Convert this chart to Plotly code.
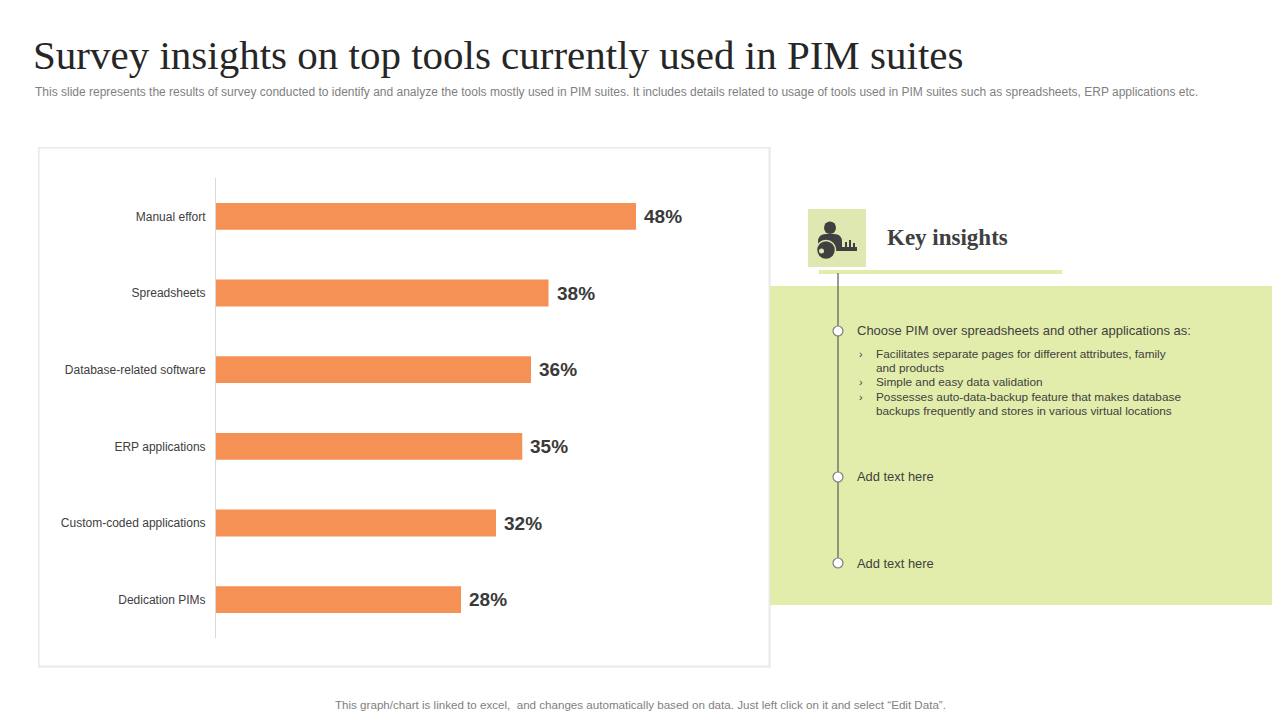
import plotly.graph_objects as go

# ---- data ----
tools = [
    "Manual effort",
    "Spreadsheets",
    "Database-related software",
    "ERP applications",
    "Custom-coded applications",
    "Dedication PIMs",
]
usage_pct = [48, 38, 36, 35, 32, 28]

title = "Survey insights on top tools currently used in PIM suites"
subtitle = ("This slide represents the results of survey conducted to identify and analyze the tools mostly "
            "used in PIM suites. It includes details related to usage of tools used in PIM suites such as "
            "spreadsheets, ERP applications etc.")
footer = ("This graph/chart is linked to excel,  and changes automatically based on data. "
          "Just left click on it and select \u201cEdit Data\u201d.")
insight_head = "Choose PIM over spreadsheets and other applications as:"
insight_lines = [
    ("\u203a", "Facilitates separate pages for different attributes, family"),
    ("", "and products"),
    ("\u203a", "Simple and easy data validation"),
    ("\u203a", "Possesses auto-data-backup feature that makes database"),
    ("", "backups frequently and stores in various virtual locations"),
]
extra_points = ["Add text here", "Add text here"]

# page body has an 8px margin, so the figure starts at (8, 8) of the window
OFF = 8
W, H = 1280 - 2 * OFF, 720 - 2 * OFF
SANS = "Liberation Sans, Arial, sans-serif"
SERIF = "Liberation Serif, Times New Roman, serif"
ORANGE = "#F69155"
GREEN = "#E3EDAB"


def px(x):
    return (x - OFF) / W


def py(y):
    return 1 - (y - OFF) / H


fig = go.Figure()

fig.add_trace(go.Bar(
    x=usage_pct, y=tools, orientation="h",
    marker=dict(color=ORANGE, line=dict(width=0)),
    width=0.35, hoverinfo="skip",
))

# value labels next to each bar
for name, val in zip(tools, usage_pct):
    fig.add_annotation(
        x=val, y=name, xref="x", yref="y", text=f"{val}%", showarrow=False,
        xanchor="left", xshift=6,
        font=dict(family=SANS, size=19, color="#3a3a3a", weight="bold"),
    )

shapes = []
# chart card with soft shadow
shapes.append(dict(type="rect", xref="paper", yref="paper", layer="below",
                   x0=px(38), x1=px(771), y0=py(668), y1=py(147),
                   fillcolor="#f0f0f0", line=dict(width=0)))
shapes.append(dict(type="rect", xref="paper", yref="paper", layer="below",
                   x0=px(39), x1=px(769), y0=py(666), y1=py(148),
                   fillcolor="white", line=dict(color="#e6e6e6", width=1)))
# green insights panel
shapes.append(dict(type="rect", xref="paper", yref="paper", layer="below",
                   x0=px(770), x1=1, y0=py(605), y1=py(286),
                   fillcolor=GREEN, line=dict(width=0)))
# icon box
shapes.append(dict(type="rect", xref="paper", yref="paper", layer="below",
                   x0=px(808), x1=px(866), y0=py(267), y1=py(209),
                   fillcolor="#DFE8B0", line=dict(width=0)))
# header underline
shapes.append(dict(type="rect", xref="paper", yref="paper", layer="below",
                   x0=px(819), x1=px(1062), y0=py(274), y1=py(270),
                   fillcolor=GREEN, line=dict(width=0)))
# timeline
shapes.append(dict(type="line", xref="paper", yref="paper",
                   x0=px(838), x1=px(838), y0=py(273), y1=py(563),
                   line=dict(color="#595959", width=1.2)))
for cy in [331, 477, 563]:
    shapes.append(dict(type="circle", xref="paper", yref="paper",
                       x0=px(833), x1=px(843), y0=py(cy + 5), y1=py(cy - 5),
                       fillcolor="white", line=dict(color="#7f7f7f", width=1.2)))

# icon: person with key
DARK = "#404040"
shapes.append(dict(type="circle", xref="paper", yref="paper",
                   x0=px(824), x1=px(836), y0=py(234), y1=py(221.5),
                   fillcolor=DARK, line=dict(width=0)))
body = (f"M {px(818)},{py(250)} L {px(818)},{py(242)} "
        f"Q {px(818)},{py(234)} {px(826)},{py(234)} L {px(834)},{py(234)} "
        f"Q {px(842)},{py(234)} {px(842)},{py(242)} L {px(842)},{py(250)} Z")
shapes.append(dict(type="path", xref="paper", yref="paper", path=body,
                   fillcolor=DARK, line=dict(width=0)))
shaft = (f"M {px(833)},{py(247)} L {px(857)},{py(247)} L {px(857)},{py(251)} "
         f"L {px(833)},{py(251)} Z")
shapes.append(dict(type="path", xref="paper", yref="paper", path=shaft,
                   fillcolor=DARK, line=dict(width=0)))
for tx0, tx1, ty in [(845, 847, 242), (849, 851, 240), (853, 855, 243)]:
    shapes.append(dict(type="rect", xref="paper", yref="paper",
                       x0=px(tx0), x1=px(tx1), y0=py(247), y1=py(ty),
                       fillcolor=DARK, line=dict(width=0)))
shapes.append(dict(type="circle", xref="paper", yref="paper",
                   x0=px(816.5), x1=px(835.5), y0=py(259.5), y1=py(240.5),
                   fillcolor=DARK, line=dict(color="#DFE8B0", width=1.5)))
shapes.append(dict(type="circle", xref="paper", yref="paper",
                   x0=px(819), x1=px(824), y0=py(253.5), y1=py(248.5),
                   fillcolor="#DFE8B0", line=dict(width=0)))

annotations = [
    dict(x=px(31), y=py(55), text=title, xanchor="left", yanchor="middle",
         font=dict(family=SERIF, size=41, color="#262626")),
    dict(x=px(33), y=py(92), text=subtitle, xanchor="left", yanchor="middle",
         font=dict(family=SANS, size=12, color="#7f7f7f")),
    dict(x=px(640), y=py(704), text=footer, xanchor="center", yanchor="middle",
         font=dict(family=SANS, size=11.6, color="#7f7f7f")),
    dict(x=px(885), y=py(238), text="<b>Key insights</b>", xanchor="left", yanchor="middle",
         font=dict(family=SERIF, size=23, color="#404040")),
    dict(x=px(855), y=py(331), text=insight_head, xanchor="left", yanchor="middle",
         font=dict(family=SANS, size=13, color="#404040")),
]
line_y = [354, 368, 382, 397, 411]
for (bullet, txt), ly in zip(insight_lines, line_y):
    if bullet:
        annotations.append(dict(x=px(857), y=py(ly), text=bullet, xanchor="left", yanchor="middle",
                                font=dict(family=SANS, size=11, color="#404040")))
    annotations.append(dict(x=px(874), y=py(ly), text=txt, xanchor="left", yanchor="middle",
                            font=dict(family=SANS, size=11.8, color="#404040")))
for txt, ly in zip(extra_points, [477, 563]):
    annotations.append(dict(x=px(855), y=py(ly), text=txt, xanchor="left", yanchor="middle",
                            font=dict(family=SANS, size=12.9, color="#404040")))
for a in annotations:
    a.update(xref="paper", yref="paper", showarrow=False)
    fig.add_annotation(**a)

fig.update_layout(
    width=W, height=H,
    margin=dict(l=0, r=0, t=0, b=0),
    paper_bgcolor="white", plot_bgcolor="rgba(0,0,0,0)",
    showlegend=False, shapes=shapes,
    xaxis=dict(domain=[px(216), px(741)], range=[0, 60], visible=False, fixedrange=True),
    yaxis=dict(domain=[py(638), py(178)], autorange="reversed",
               showline=True, linecolor="#d9d9d9", linewidth=1,
               showgrid=False, zeroline=False, ticks="", ticklabelstandoff=7,
               tickfont=dict(family=SANS, size=12, color="#404040"), fixedrange=True),
)

fig.write_html("out.html")
